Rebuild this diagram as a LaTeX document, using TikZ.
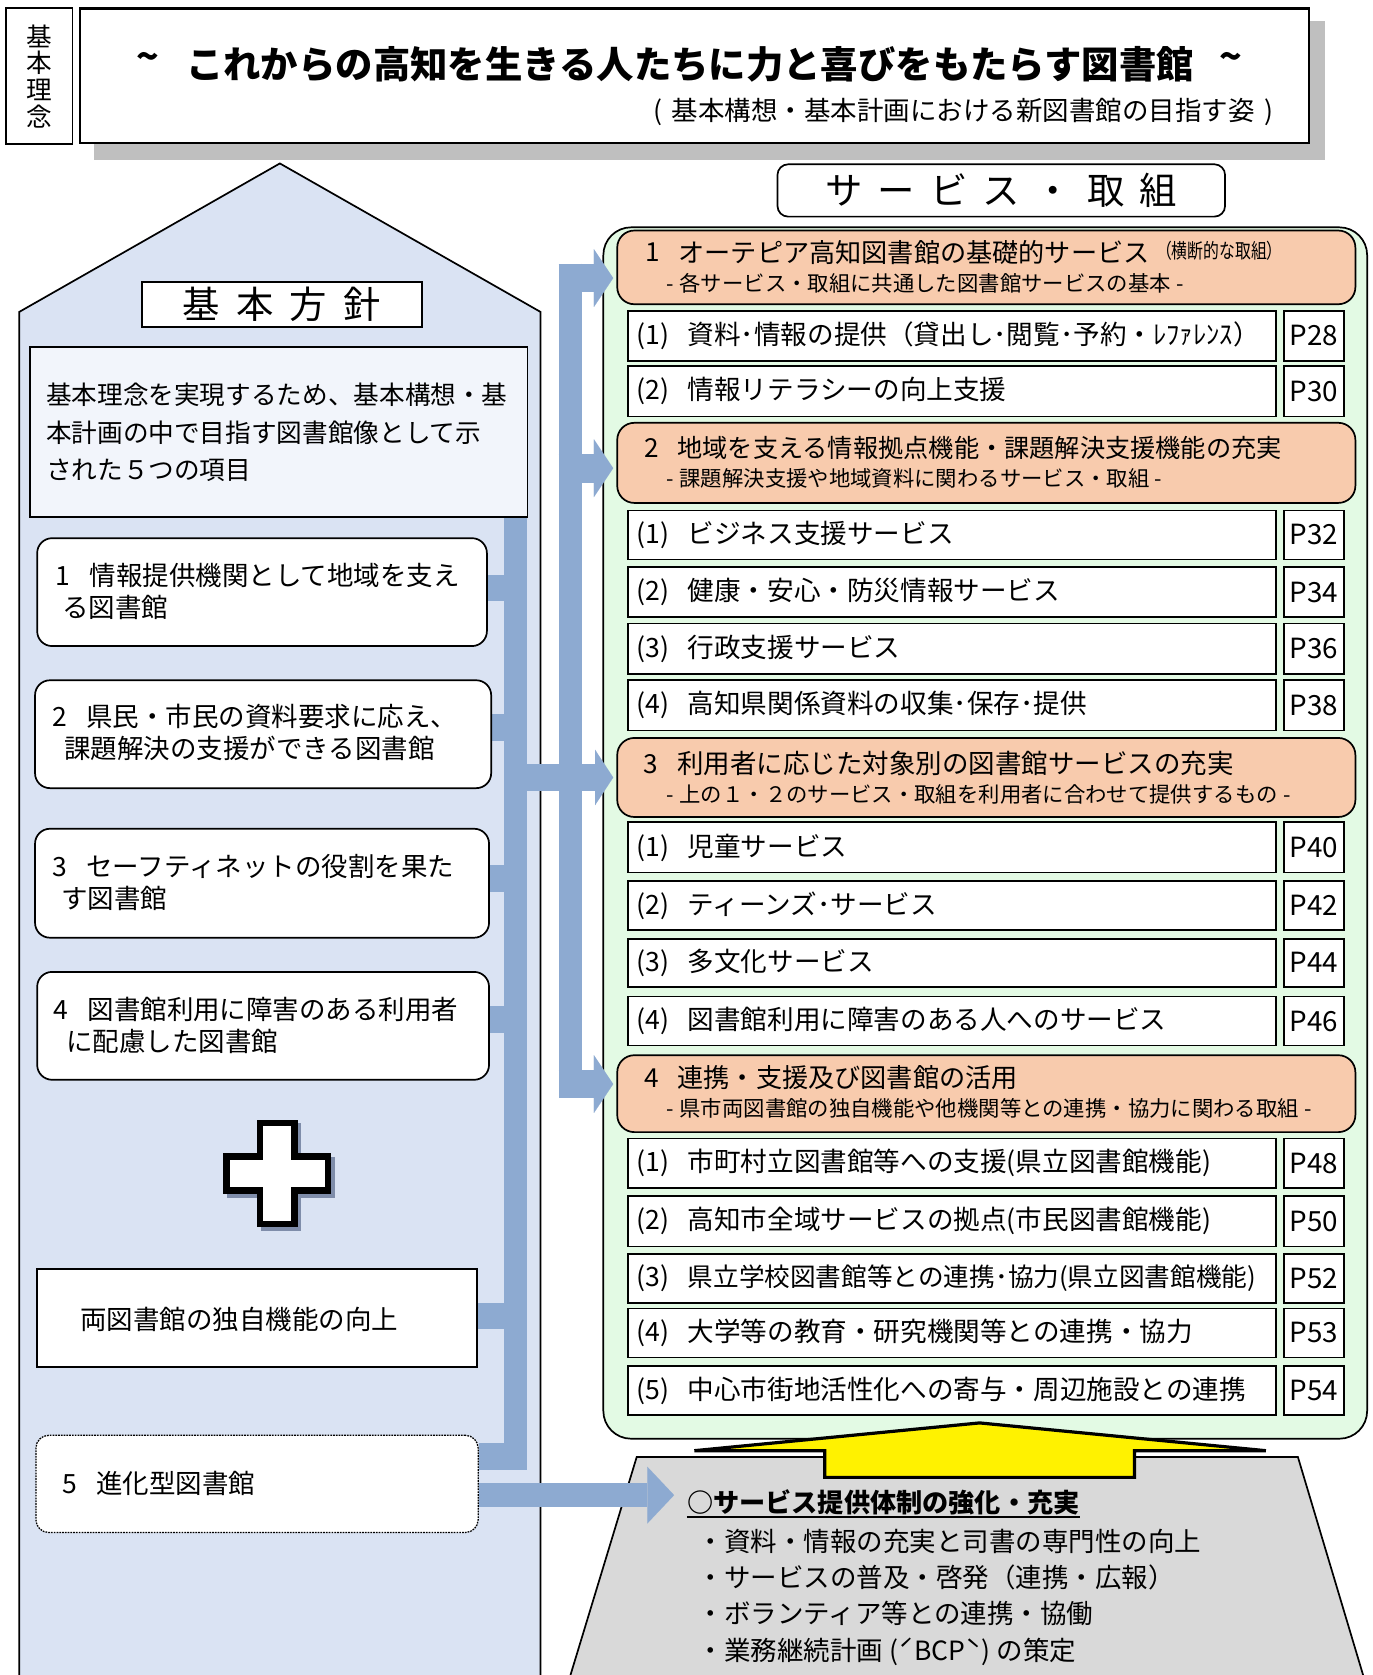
\documentclass[tikz,border=0pt]{standalone}
\usepackage{fontspec}
\setmainfont{Noto Sans CJK JP}
\newfontfamily\jpcond[FakeStretch=0.78]{Noto Sans CJK JP}
\usetikzlibrary{arrows.meta,calc}
\pgfdeclarelayer{back}
\pgfdeclarelayer{mid}
\pgfsetlayers{back,mid,main}
\definecolor{houseblue}{HTML}{DAE3F3}
\definecolor{descfill}{HTML}{F2F5FB}
\definecolor{barblue}{HTML}{8DAAD1}
\definecolor{greenbg}{HTML}{E3FAE4}
\definecolor{orangebg}{HTML}{F8CBAD}
\definecolor{graybg}{HTML}{D9D9D9}
\definecolor{shadowgray}{HTML}{BFBFBF}
\definecolor{plusshadow}{HTML}{7F8DAA}
\newcommand\myfs[1]{\fontsize{#1pt}{#1pt}\selectfont}
\newcommand\svcrow[6]{%
  \node[sq, minimum width=607pt, minimum height=#3pt] (#1) at (587,#2) {};
  \node[lbl, font=\myfs{24.9}] (#1t) at ([xshift=9pt]#1.west) {(#4)\hspace{17pt}#5};
  \node[sq, minimum width=56pt, minimum height=#3pt] (#1p) at (1201,#2) {};
  \node[inner sep=0pt, font=\myfs{26}] (#1pg) at (#1p.center) {#6};
}
\begin{document}
\begin{tikzpicture}[x=1pt,y=-1pt,
  lbl/.style={anchor=west,inner sep=0pt},
  sq/.style={draw=black,line width=1.6pt,fill=white,inner sep=0pt,anchor=north west},
  rr/.style={sq,rounded corners=14pt},
  ob/.style={sq,fill=orangebg,rounded corners=16pt,minimum width=691pt},
  bar/.style={draw=barblue,line width=#1},
  tipR/.style={-{Triangle[length=18pt,width=54pt,line width=0.01pt]}},
]
\useasboundingbox (0,0) rectangle (1285,1568);

% ---------- back layer: big shapes ----------
\begin{pgfonlayer}{back}
  \fill[white] (0,0) rectangle (1285,1568);
  \draw[fill=houseblue, line width=1.6pt] (18,1580) -- (18,292) -- (262,153) -- (506,292) -- (506,1580);
  \node[draw=black, line width=1.6pt, fill=greenbg, rounded corners=26pt, inner sep=0pt,
        anchor=north west, minimum width=715pt, minimum height=1134pt] (green) at (564,212) {};
  \draw[fill=graybg, line width=1.6pt] (531,1578) -- (596,1364) -- (1215,1364) -- (1279,1578);
  \draw[fill=yellow, line width=3pt] (917,1332) -- (1185,1358) -- (1062,1358) -- (1062,1383)
        -- (772,1383) -- (772,1358) -- (650,1358) -- cycle;
\end{pgfonlayer}

% ---------- header ----------
\node[sq, minimum width=62pt, minimum height=127pt] (kbox) at (5,7) {};
\node[align=center, inner sep=0pt, font=\fontsize{24pt}{25pt}\selectfont] (ktext) at (kbox.center) {基\\本\\理\\念};
\fill[shadowgray] (88,20) rectangle (1240,150);
\node[sq, line width=2pt, minimum width=1150pt, minimum height=126pt] (tbox) at (74,7) {};
\node[inner sep=0pt, font=\myfs{35}\bfseries] (ttl) at (646,60) {これからの高知を生きる人たちに力と喜びをもたらす図書館};
\node[inner sep=0pt, font=\myfs{35}\bfseries] (tl) at (138,58) {\textasciitilde};
\node[inner sep=0pt, font=\myfs{35}\bfseries] (tr) at (1152,58) {\textasciitilde};
\node[anchor=east, inner sep=0pt, font=\myfs{24.8}] (sub) at (1192,105) {(\hspace{9pt}基本構想・基本計画における新図書館の目指す姿\hspace{9pt})};

% ---------- left: basic policy ----------
\node[sq, minimum width=262pt, minimum height=42pt] (kh) at (132,263) {};
\node[inner sep=0pt, font=\myfs{35}] (kht) at (kh.center) {基\hspace{15pt}本\hspace{15pt}方\hspace{15pt}針};
\node[sq, fill=descfill, minimum width=466pt, minimum height=159pt] (desc) at (27,324) {};
\node[lbl, font=\myfs{24}] (d1) at (43,370) {基本理念を実現するため、基本構想・基};
\node[lbl, font=\myfs{24}] (d2) at (43,405) {本計画の中で目指す図書館像として示};
\node[lbl, font=\myfs{24}] (d3) at (43,440) {された５つの項目};

\node[rr, minimum width=421pt, minimum height=101pt] (i1) at (34,503) {};
\node[lbl, font=\myfs{24.8}] (i1a) at (52,539) {1\hspace{18pt}情報提供機関として地域を支え};
\node[lbl, font=\myfs{24.8}] (i1b) at (58,569) {る図書館};
\node[rr, minimum width=427pt, minimum height=101pt] (i2) at (32,636) {};
\node[lbl, font=\myfs{24.8}] (i2a) at (49,671) {2\hspace{18pt}県民・市民の資料要求に応え、};
\node[lbl, font=\myfs{24.8}] (i2b) at (60,701) {課題解決の支援ができる図書館};
\node[rr, minimum width=425pt, minimum height=102pt] (i3) at (32,775) {};
\node[lbl, font=\myfs{24.8}] (i3a) at (49,811) {3\hspace{18pt}セーフティネットの役割を果た};
\node[lbl, font=\myfs{24.8}] (i3b) at (57,841) {す図書館};
\node[rr, minimum width=423pt, minimum height=101pt] (i4) at (34,909) {};
\node[lbl, font=\myfs{24.8}] (i4a) at (50,945) {4\hspace{18pt}図書館利用に障害のある利用者};
\node[lbl, font=\myfs{24.8}] (i4b) at (62,975) {に配慮した図書館};

% plus sign
\begin{scope}[shift={(263,1102)}]
  \draw[fill=plusshadow, draw=plusshadow, line width=6pt] (-16,-47.5) -- (16,-47.5) -- (16,-16) -- (47.5,-16) -- (47.5,16) -- (16,16) -- (16,47.5) -- (-16,47.5) -- (-16,16) -- (-47.5,16) -- (-47.5,-16) -- (-16,-16) -- cycle;
\end{scope}
\begin{scope}[shift={(259.5,1098.5)}]
  \draw[fill=white, line width=6pt] (-16,-47.5) -- (16,-47.5) -- (16,-16) -- (47.5,-16) -- (47.5,16) -- (16,16) -- (16,47.5) -- (-16,47.5) -- (-16,16) -- (-47.5,16) -- (-47.5,-16) -- (-16,-16) -- cycle;
\end{scope}

\node[sq, minimum width=412pt, minimum height=92pt] (ryo) at (34,1187) {};
\node[lbl, font=\myfs{24.8}] (ryot) at (75,1235) {両図書館の独自機能の向上};
\node[sq, rounded corners=12pt, densely dotted, line width=1.2pt, minimum width=414pt, minimum height=91pt] (i5) at (33,1343) {};
\node[lbl, font=\myfs{24.8}] (i5t) at (58,1389) {5\hspace{18pt}進化型図書館};

% ---------- right: services ----------
\node[sq, rounded corners=10pt, minimum width=419pt, minimum height=49pt] (svc) at (727,153) {};
\node[inner sep=0pt, font=\myfs{35}] (svct) at (svc.center) {サ\hspace{14pt}ー\hspace{14pt}ビ\hspace{14pt}ス\hspace{14pt}・\hspace{14pt}取\hspace{14pt}組};

\node[ob, minimum height=69pt] (sec1) at (577,215) {};
\node[lbl, font=\myfs{24.5}] (sec1n) at (604,236) {1};
\node[lbl, font=\myfs{24.5}] (sec1a) at (635,236) {オーテピア高知図書館の基礎的サービス};
\node[lbl, font=\jpcond\myfs{19}] (sec1c) at (1082,235) {（横断的な取組）};
\node[lbl, font=\myfs{20}] (sec1b) at (624,265) {-\hspace{5pt}各サービス・取組に共通した図書館サービスの基本\hspace{5pt}-};

\node[ob, minimum height=75pt] (sec2) at (577,395) {};
\node[lbl, font=\myfs{24.5}] (sec2n) at (603,419) {2};
\node[lbl, font=\myfs{23.6}] (sec2a) at (634,419) {地域を支える情報拠点機能・課題解決支援機能の充実};
\node[lbl, font=\myfs{20}] (sec2b) at (624,448) {-\hspace{5pt}課題解決支援や地域資料に関わるサービス・取組\hspace{5pt}-};

\node[ob, minimum height=74pt] (sec3) at (577,690) {};
\node[lbl, font=\myfs{24.5}] (sec3n) at (602,715) {3};
\node[lbl, font=\myfs{24.8}] (sec3a) at (634,715) {利用者に応じた対象別の図書館サービスの充実};
\node[lbl, font=\myfs{20}] (sec3b) at (624,744) {-\hspace{5pt}上の１・２のサービス・取組を利用者に合わせて提供するもの\hspace{5pt}-};

\node[ob, minimum height=72pt] (sec4) at (577,987) {};
\node[lbl, font=\myfs{24.5}] (sec4n) at (603,1009) {4};
\node[lbl, font=\myfs{24.5}] (sec4a) at (634,1009) {連携・支援及び図書館の活用};
\node[lbl, font=\myfs{20}] (sec4b) at (624,1038) {-\hspace{5pt}県市両図書館の独自機能や他機関等との連携・協力に関わる取組\hspace{5pt}-};

\svcrow{sar}{290}{47}{1}{資料･情報の提供（貸出し･閲覧･予約・ﾚﾌｧﾚﾝｽ）}{P28}
\svcrow{sbr}{342}{47}{2}{情報リテラシーの向上支援}{P30}
\svcrow{scr}{477}{46}{1}{ビジネス支援サービス}{P32}
\svcrow{sdr}{530}{47}{2}{健康・安心・防災情報サービス}{P34}
\svcrow{ser}{583}{47}{3}{行政支援サービス}{P36}
\svcrow{sfr}{636}{47}{4}{高知県関係資料の収集･保存･提供}{P38}
\svcrow{sgr}{769}{47}{1}{児童サービス}{P40}
\svcrow{shr}{824}{46}{2}{ティーンズ･サービス}{P42}
\svcrow{sir}{878}{45}{3}{多文化サービス}{P44}
\svcrow{sjr}{932}{46}{4}{図書館利用に障害のある人へのサービス}{P46}
\svcrow{skr}{1065}{46}{1}{市町村立図書館等への支援(県立図書館機能)}{P48}
\svcrow{slr}{1119}{47}{2}{高知市全域サービスの拠点(市民図書館機能)}{P50}
\svcrow{smr}{1173}{46}{3}{{\myfs{24}県立学校図書館等との連携･協力(県立図書館機能)}}{P52}
\svcrow{snr}{1224}{46}{4}{大学等の教育・研究機関等との連携・協力}{P53}
\svcrow{sor}{1278}{46}{5}{中心市街地活性化への寄与・周辺施設との連携}{P54}

% ---------- bottom trapezoid text ----------
\node[lbl, font=\myfs{24.5}\bfseries] (hd) at (643,1406) {○サービス提供体制の強化・充実};
\draw[line width=1.5pt] ($(hd.west)+(0,14)$) -- ($(hd.east)+(0,14)$);
\node[lbl, font=\myfs{24.8}] (b1) at (653,1443) {・資料・情報の充実と司書の専門性の向上};
\node[lbl, font=\myfs{24.8}] (b2) at (653,1477) {・サービスの普及・啓発（連携・広報）};
\node[lbl, font=\myfs{24.8}] (b3) at (653,1510) {・ボランティア等との連携・協働};
\node[lbl, font=\myfs{24.8}] (b4) at (653,1546) {・業務継続計画\hspace{6pt}(ˊBCPˋ)\hspace{6pt}の策定};

% ---------- blue connectors ----------
\coordinate (LB) at (482.5,0);
\coordinate (RB) at (534,0);
\coordinate (s1) at ([yshift=4pt]i1.east);
\coordinate (s2) at ([yshift=6.5pt]i2.east);
\coordinate (s3) at ([yshift=4.5pt]i3.east);
\coordinate (s4) at ([yshift=6pt]i4.east);
\coordinate (sr) at ([yshift=2pt]ryo.east);
\coordinate (s5) at ([yshift=-20.5pt]i5.north east);
\coordinate (Lbot) at ($(s5 -| LB)+(0,12.5)$);
\coordinate (a1) at ([yshift=-10pt]sec1.west);
\coordinate (a2) at ([yshift=-5pt]sec2.west);
\coordinate (a4) at ([yshift=9pt]sec4.west);
\coordinate (a5) at ([yshift=-10.5pt]i5.east);
\coordinate (t5) at ([xshift=-12pt]hd.west);
\begin{pgfonlayer}{mid}
  \draw[bar=21pt] (desc.south -| LB) -- (Lbot);
  \foreach \s in {s1,s2,s3,s4,sr,s5} \draw[bar=25pt] (\s) -- (\s -| LB);
  \draw[bar=25pt, -{Triangle[length=17pt,width=52pt,line width=0.01pt]}, shorten >=3pt] (sec3.west -| LB) -- (sec3.west);
  \draw[bar=22pt] ($(a1 -| RB)+(0,-13.5)$) -- ($(a4 -| RB)+(0,13)$);
  \foreach \a in {a1,a2,a4} \draw[bar=27pt, tipR, shorten >=3pt] ($(\a -| RB)+(-11,0)$) -- (\a);
  \draw[bar=22pt, -{Triangle[length=25pt,width=53pt,line width=0.01pt]}] (a5) -- (a5 -| t5);
\end{pgfonlayer}
\end{tikzpicture}
\end{document}
